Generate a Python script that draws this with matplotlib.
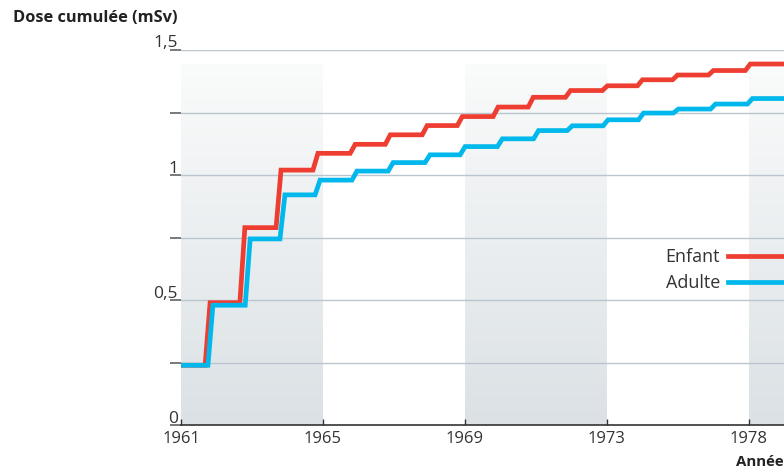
import numpy as np
import matplotlib
matplotlib.use('Agg')
import matplotlib.pyplot as plt
from matplotlib.colors import LinearSegmentedColormap

plt.rcParams['font.family'] = ['Open Sans', 'DejaVu Sans']

# years run 1961 -> 1978, one step of dose per year (x in years after 1961)
year_ticks = [0, 4, 8, 12, 16]
year_labels = ['1961', '1965', '1969', '1973', '1978']

# times at which each cumulative step begins (years after 1961)
enfant_steps = [0.68, 1.66, 2.68, 3.72, 4.77, 5.76, 6.80, 7.79, 8.80, 9.79,
                10.84, 11.88, 12.87, 13.86, 14.87, 15.91]
adulte_steps = [0.76, 1.81, 2.79, 3.78, 4.82, 5.84, 6.88, 7.87, 8.92, 9.94,
                10.89, 11.90, 12.90, 13.88, 14.93, 15.97]

# cumulated dose (mSv): start value then value after each step
enfant_dose = [0.24, 0.49, 0.79, 1.02, 1.087, 1.123, 1.161, 1.198, 1.234,
               1.272, 1.311, 1.338, 1.357, 1.381, 1.400, 1.418, 1.444]
adulte_dose = [0.24, 0.48, 0.745, 0.921, 0.980, 1.016, 1.050, 1.081, 1.114,
               1.145, 1.178, 1.197, 1.221, 1.248, 1.264, 1.284, 1.306]

y_ticks = [0, 0.25, 0.5, 0.75, 1, 1.25, 1.5]
y_labels = ['0', '', '0,5', '', '1', '', '1,5']

# shaded periods
bands = [(0, 4), (8, 12), (16, 17)]

x_end = 17.0
ramp = 0.14
red = '#EE3D31'
blue = '#00B8EB'


def step_curve(steps, dose):
    xs = [0]
    ys = [dose[0]]
    for i, t in enumerate(steps):
        xs += [t, t + ramp]
        ys += [dose[i], dose[i + 1]]
    xs.append(x_end)
    ys.append(dose[-1])
    return xs, ys


fig = plt.figure(figsize=(7.84, 4.70), dpi=100)
ax = fig.add_axes([181 / 784, 44.7 / 470, 1 - 181 / 784, 375.3 / 470])

cmap = LinearSegmentedColormap.from_list('band', ['#DBE1E5', '#FAFBFB'])
grad = np.linspace(0, 1, 256).reshape(-1, 1)
for x0, x1 in bands:
    ax.imshow(grad, cmap=cmap, origin='lower', aspect='auto',
              extent=[x0, x1, 0, 1.441], zorder=0)

for yv in y_ticks[1:]:
    ax.axhline(yv, color='#B9C6CF', lw=1.0, zorder=1)

x, y = step_curve(enfant_steps, enfant_dose)
ax.plot(x, y, color=red, lw=3.4, label='Enfant', zorder=3, solid_joinstyle='miter')
x, y = step_curve(adulte_steps, adulte_dose)
ax.plot(x, y, color=blue, lw=3.4, label='Adulte', zorder=4, solid_joinstyle='miter')

ax.set_xlim(0, x_end)
ax.set_ylim(0, 1.5)

for s in ['top', 'right', 'left']:
    ax.spines[s].set_visible(False)
ax.spines['bottom'].set_color('#333333')
ax.spines['bottom'].set_linewidth(1.2)
ax.spines['bottom'].set_zorder(5)

ax.set_xticks(year_ticks)
ax.set_xticklabels(year_labels, fontsize=12, color='#333333')
ax.tick_params(axis='x', direction='in', length=4.5, width=1, color='#333333', pad=4)

ax.set_yticks(y_ticks)
ax.set_yticklabels([])
ax.tick_params(axis='y', direction='out', length=8, width=1.1, color='#555555')
for yv, lab in zip(y_ticks, y_labels):
    if lab:
        ax.text(-0.005, yv + 0.01, lab, transform=ax.get_yaxis_transform(),
                ha='right', va='baseline', fontsize=12.5, color='#333333')

ax.set_facecolor('white')

leg = ax.legend(loc='upper right', bbox_to_anchor=(1.0, 0.472), frameon=False,
                markerfirst=False, handlelength=3.1, handletextpad=0.45,
                borderpad=0, borderaxespad=0, labelspacing=0.45, fontsize=13)
for t in leg.get_texts():
    t.set_color('#333333')

fig.text(13 / 784, 0.962, 'Dose cumulée (mSv)', fontsize=11.8, fontweight='bold',
         color='#222222', ha='left', va='center')
fig.text(0.999, 0.018, 'Année', fontsize=10.8, fontweight='bold',
         color='#222222', ha='right', va='center')

fig.savefig('out.png', dpi=100)
